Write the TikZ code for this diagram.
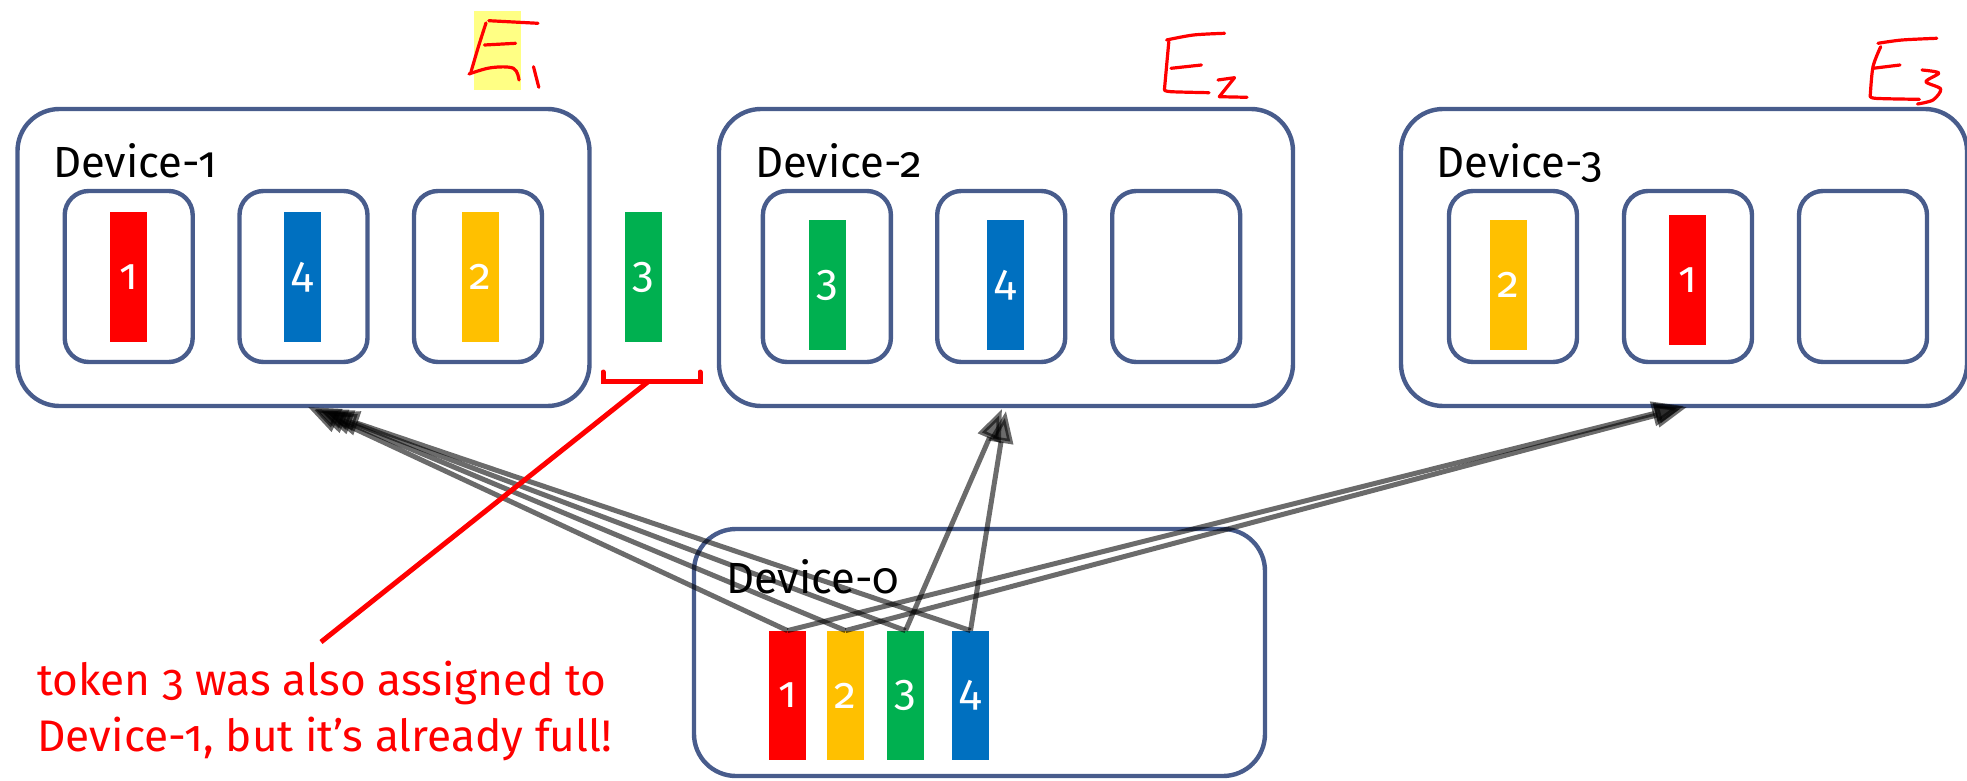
\documentclass[tikz,border=0pt]{standalone}
\usepackage{fontspec}
\setmainfont{Fira Sans}[Numbers=OldStyle]
\usetikzlibrary{arrows.meta}

\definecolor{frame}{RGB}{72,92,140}
\definecolor{tokred}{RGB}{255,0,0}
\definecolor{tokyel}{RGB}{255,192,0}
\definecolor{tokgrn}{RGB}{0,176,80}
\definecolor{tokblu}{RGB}{0,112,192}
\definecolor{hilite}{RGB}{255,255,110}

\tikzset{
  device/.style={draw=frame, line width=2.2pt, rounded corners=21pt,
    minimum height=148.5pt, inner sep=0pt},
  slot/.style={draw=frame, line width=2.2pt, rounded corners=12pt,
    minimum width=64pt, minimum height=85.5pt, inner sep=0pt},
  token/.style={minimum width=18.5pt, minimum height=65pt, inner sep=0pt,
    text=white, font=\fontsize{22}{26}\selectfont},
  devlabel/.style={anchor=base west, inner sep=0pt,
    font=\fontsize{21.8}{26}\selectfont},
  route/.style={draw=black, opacity=0.58, line width=2.5pt,
    -{Triangle[length=16pt,width=12pt]}},
  ink/.style={draw=tokred, line width=1.6pt, line cap=round, line join=round},
  callout/.style={draw=tokred, line width=2.5pt},
}

\begin{document}
\begin{tikzpicture}[x=0.5pt,y=-0.5pt]
\useasboundingbox (0,0) rectangle (1967,781);

% ---- expert devices ----
\node[device, minimum width=286pt] (d1) at (303.5,257.5) {};
\node[device, minimum width=287pt] (d2) at (1006,257.5) {};
\node[device, minimum width=283pt] (d3) at (1684,257.5) {};

\node[devlabel] (l1) at (52.7,177) {Device-1};
\node[devlabel] (l2) at (754.6,177) {Device-2};
\node[devlabel] (l3) at (1436,177) {Device-3};

% slots of Device-1
\node[slot] (s11) at (128.7,276.5) {};
\node[slot] (s12) at (303.5,276.5) {};
\node[slot] (s13) at (478,276.5) {};
% slots of Device-2
\node[slot] (s21) at (826.9,276.5) {};
\node[slot] (s22) at (1001.2,276.5) {};
\node[slot] (s23) at (1176.2,276.5) {};
% slots of Device-3
\node[slot] (s31) at (1513,276.5) {};
\node[slot] (s32) at (1688,276.5) {};
\node[slot] (s33) at (1863,276.5) {};

% tokens held by each device
\node[token, fill=tokred] (a1) at (128.4,277) {1};
\node[token, fill=tokblu] (a4) at (302.3,277) {4};
\node[token, fill=tokyel] (a2) at (480.4,277) {2};
\node[token, fill=tokgrn] (a3) at (643.5,277) {3};

\node[token, fill=tokgrn] (b3) at (827.5,285) {3};
\node[token, fill=tokblu] (b4) at (1005.5,285) {4};

\node[token, fill=tokyel] (c2) at (1508.5,285) {2};
\node[token, fill=tokred] (c1) at (1687.5,280) {1};

% ---- source device ----
\node[device, minimum width=285.5pt, minimum height=123.5pt] (d0) at (979.5,652.5) {};
\node[devlabel] (l0) at (725.8,593) {Device-0};

\node[token, fill=tokred, minimum height=64.5pt] (t1) at (787.5,695.5) {1};
\node[token, fill=tokyel, minimum height=64.5pt] (t2) at (845.5,695.5) {2};
\node[token, fill=tokgrn, minimum height=64.5pt] (t3) at (905.5,695.5) {3};
\node[token, fill=tokblu, minimum height=64.5pt] (t4) at (970.5,695.5) {4};

% ---- routing arrows ----
\coordinate (in1a) at (308,407);
\coordinate (in1b) at (315,409);
\coordinate (in1c) at (321,411);
\coordinate (in1d) at (327,413);
\coordinate (in2a) at (1002,409);
\coordinate (in2b) at (1006,411);
\coordinate (in3a) at (1684,406);
\coordinate (in3b) at (1687,407);

\draw[route] (t1.north) -- (in1a);
\draw[route] (t2.north) -- (in1b);
\draw[route] (t3.north) -- (in1c);
\draw[route] (t4.north) -- (in1d);
\draw[route] (t3.north) -- (in2a);
\draw[route] (t4.north) -- (in2b);
\draw[route] (t1.north) -- (in3a);
\draw[route] (t2.north) -- (in3b);

% ---- overflow note ----
\draw[callout, line cap=round] (603,372) -- (603,381) -- (700,381) -- (700,372);
\coordinate (brk) at (649,381);
\node[anchor=base west, inner sep=0pt, align=left, text=tokred,
  font=\fontsize{22.1}{28}\selectfont] (note) at (37,751)
  {token 3 was also assigned to\\Device-1, but it’s already full!};
\coordinate (noteend) at (321,642);
\draw[callout] (brk) -- (noteend);

% ---- handwritten expert marks ----
\fill[hilite, opacity=0.85] (474,11) rectangle (521,90);
\draw[ink] (488.8,20.7) -- (538,23.3);
\draw[ink] plot[smooth, tension=0.5] coordinates {(486,23) (478,48) (471,72)};
\draw[ink] (484.4,45) -- (515.6,43.3);
\draw[ink] plot[smooth, tension=0.6] coordinates {(469,74) (491,67.7) (513.4,68.3) (519,80)};
\draw[ink] (533.5,66.7) -- (538.8,87.3);

\draw[ink] plot[smooth, tension=0.5] coordinates {(1166.6,40) (1193.4,35) (1224.6,33.3)};
\draw[ink] (1168.8,41.7) -- (1164.4,90);
\draw[ink] (1171,68.3) -- (1201.4,65);
\draw[ink] plot[smooth, tension=0.5] coordinates {(1164.4,90) (1171,91.7) (1209,92.7)};
\draw[ink] (1218,80) -- (1234.5,77.7) -- (1219.3,96.7) -- (1247,97.3);

\draw[ink] plot[smooth, tension=0.5] coordinates {(1878,43.3) (1902,40) (1936.8,38.3)};
\draw[ink] plot[smooth, tension=0.5] coordinates {(1880.7,46.7) (1873,66.7) (1870.3,95)};
\draw[ink] (1873,68.3) -- (1900,65);
\draw[ink] plot[smooth, tension=0.5] coordinates {(1870.3,95) (1875,98.3) (1919.4,99.3)};
\draw[ink] plot[smooth, tension=0.5] coordinates {(1922,70) (1938.8,73) (1926,81.7) (1940.7,89) (1933,100) (1917.5,104)};
\end{tikzpicture}
\end{document}
